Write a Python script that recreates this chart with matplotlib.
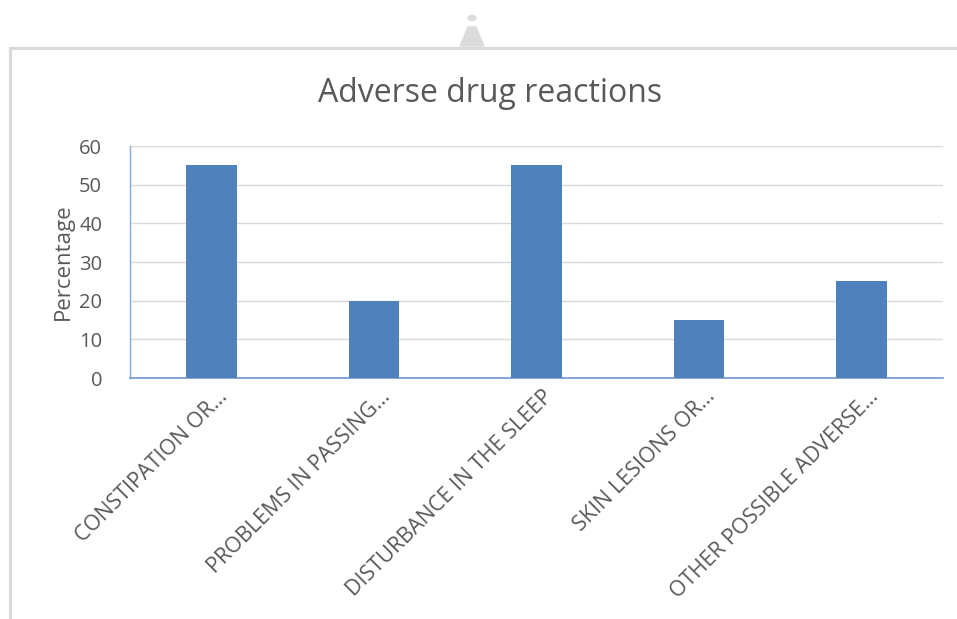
import matplotlib
matplotlib.use("Agg")
import matplotlib.pyplot as plt
from matplotlib.patches import Polygon, Circle
import matplotlib.transforms as mtransforms

categories = [
    "CONSTIPATION OR…",
    "PROBLEMS IN PASSING…",
    "DISTURBANCE IN THE SLEEP",
    "SKIN LESIONS OR…",
    "OTHER POSSIBLE ADVERSE…",
]
values = [55, 20, 55, 15, 25]
y_ticks = [0, 10, 20, 30, 40, 50, 60]

plt.rcParams["font.family"] = ["Open Sans", "DejaVu Sans"]
text_color = "#595959"
bar_color = "#4F81BD"

W, H = 957, 619
fig = plt.figure(figsize=(W / 100, H / 100), dpi=100)

# Chart frame border and handle
frame_col = "#d9d9d9"
fig.add_artist(plt.Line2D([10 / W, 1.0], [1 - 48 / H, 1 - 48 / H], color=frame_col, lw=2.2,
                          transform=fig.transFigure))
fig.add_artist(plt.Line2D([10 / W, 10 / W], [1 - 48 / H, 0.0], color=frame_col, lw=2.2,
                          transform=fig.transFigure))
fig.add_artist(Polygon([[460 / W, 1 - 46 / H], [484 / W, 1 - 46 / H], [476 / W, 1 - 27 / H],
                        [468 / W, 1 - 27 / H]], closed=True, color="#dcdcdc",
                       transform=fig.transFigure))
fig.add_artist(Circle((472 / W, 1 - 18 / H), 4 / W, color="#dcdcdc", transform=fig.transFigure))

ax = fig.add_axes([130 / W, 1 - 378 / H, (943 - 130) / W, (378 - 146) / H])
x = range(len(categories))
ax.bar(x, values, width=0.31, color=bar_color, zorder=3)

ax.set_ylim(0, 60)
ax.set_xlim(-0.5, len(categories) - 0.5)
ax.set_yticks(y_ticks)
ax.set_yticklabels([str(v) for v in y_ticks], fontsize=14.5, color=text_color)
ax.yaxis.grid(True, color="#d9d9d9", lw=1, zorder=0)
ax.tick_params(axis="y", length=0, pad=20)
ax.tick_params(axis="x", length=0, pad=0)

for s in ["top", "right"]:
    ax.spines[s].set_visible(False)
ax.spines["left"].set_color("#8eaadb")
ax.spines["bottom"].set_color("#6f98d0")
ax.spines["left"].set_linewidth(1.0)
ax.spines["bottom"].set_linewidth(1.2)

ax.set_xticks(list(x))
ax.set_xticklabels(categories, rotation=45, ha="right", rotation_mode="anchor",
                   fontsize=15.5, color=text_color)
offset = mtransforms.ScaledTranslation(6 / 100, -8 / 100, fig.dpi_scale_trans)
for lbl in ax.get_xticklabels():
    lbl.set_transform(lbl.get_transform() + offset)

ax.set_ylabel("Percentage", fontsize=16, color=text_color, labelpad=4)

fig.text(490 / W, 1 - 93 / H, "Adverse drug reactions", ha="center", va="center",
         fontsize=23, color=text_color)

fig.savefig("out.png", dpi=100, facecolor="white")
